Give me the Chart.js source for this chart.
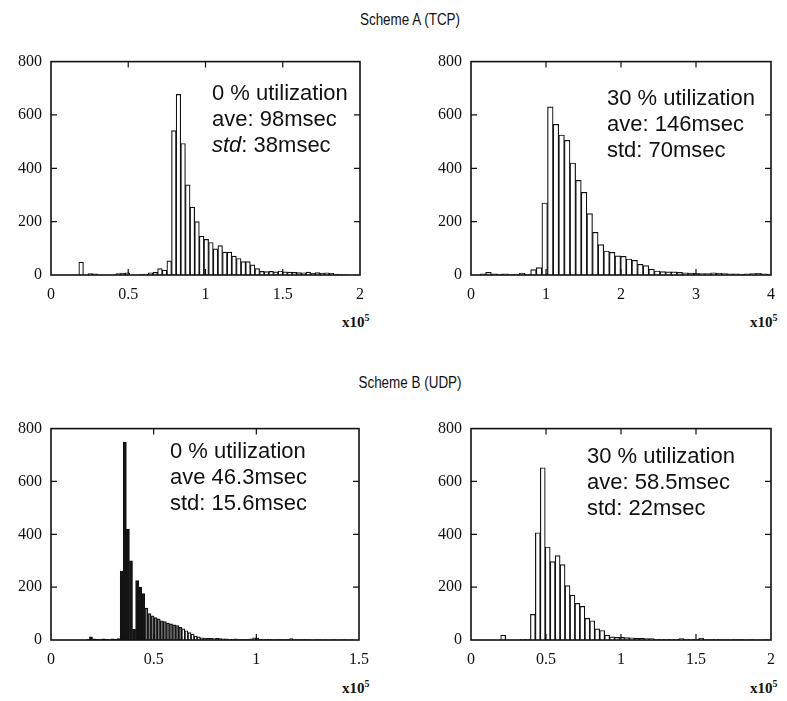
<!DOCTYPE html>
<html>
<head>
<meta charset="utf-8">
<script src="https://cdn.jsdelivr.net/npm/chart.js@4.4.1/dist/chart.umd.min.js"></script>
<style>
  html, body { margin: 0; padding: 0; background: #fff; }
  body { width: 787px; height: 701px; position: relative; overflow: hidden; }
  canvas { position: absolute; }
  .title { position: absolute; width: 200px; text-align: center; line-height: 18px;
           font-family: "Liberation Sans Narrow", "Arial Narrow", "Liberation Sans", sans-serif;
           font-size: 16px; color: #111; transform: scaleX(0.84); }
  .note { position: absolute; white-space: nowrap; font-family: "Liberation Sans", Arial, sans-serif;
          font-size: 22px; line-height: 26px; color: #111; }
  .exp { position: absolute; white-space: nowrap; font-family: "Liberation Serif", serif;
         font-size: 15px; line-height: 18px; color: #111; font-weight: bold; }
  .exp span { font-size: 10px; position: relative; top: -6px; }
</style>
</head>
<body>
<div class="title" style="left:310px; top:11px;">Scheme A (TCP)</div>
<div class="title" style="left:310px; top:374px;">Scheme B (UDP)</div>

<canvas id="a0" width="380" height="262" style="left:0; top:43px;"></canvas>
<canvas id="a30" width="387" height="262" style="left:400px; top:43px;"></canvas>
<canvas id="b0" width="380" height="260" style="left:0; top:410px;"></canvas>
<canvas id="b30" width="387" height="260" style="left:400px; top:410px;"></canvas>

<div class="note" style="left:212px; top:80px;">0 % utilization<br>ave: 98msec<br><i>std</i>: 38msec</div>
<div class="note" style="left:607px; top:85px;">30 % utilization<br>ave: 146msec<br>std: 70msec</div>
<div class="note" style="left:170px; top:438px;">0 % utilization<br>ave 46.3msec<br>std: 15.6msec</div>
<div class="note" style="left:587px; top:443px;">30 % utilization<br>ave: 58.5msec<br>std: 22msec</div>

<div class="exp" style="left:342px; top:313px;">x10<span>5</span></div>
<div class="exp" style="left:750px; top:313px;">x10<span>5</span></div>
<div class="exp" style="left:342px; top:679px;">x10<span>5</span></div>
<div class="exp" style="left:750px; top:679px;">x10<span>5</span></div>

<script>
// Eje y común a las cuatro gráficas (número de paquetes)
const yTicks = [0, 200, 400, 600, 800];

// Scheme A (TCP), 0 % utilization: bins de 0.03 (x10^5) desde 0
const binStartA0 = 0, binWidthA0 = 0.03;
const countsA0 = [0, 0, 0, 0, 0, 0, 48, 0, 5, 4,
                  0, 0, 0, 0, 5, 7, 8, 0, 0, 2,
                  3, 8, 10, 24, 18, 53, 541, 677, 493, 338,
                  254, 200, 146, 134, 122, 98, 110, 86, 86, 71,
                  62, 50, 50, 38, 24, 14, 13, 14, 12, 15,
                  12, 11, 10, 9, 8, 11, 7, 9, 7, 8,
                  6, 3, 2, 1, 0, 0, 0];
const xTicksA0 = [0, 0.5, 1, 1.5, 2];
const xLabelsA0 = ['0', '0.5', '1', '1.5', '2'];

// Scheme A (TCP), 30 % utilization
const binStartA30 = 0.045, binWidthA30 = 0.075;
const countsA30 = [0, 4, 10, 4, 3, 4, 2, 3, 7, 3,
                   20, 28, 270, 630, 565, 525, 505, 420, 355, 310,
                   230, 160, 114, 90, 85, 72, 70, 60, 55, 40,
                   35, 22, 15, 13, 12, 12, 10, 8, 7, 6,
                   5, 5, 8, 6, 5, 4, 4, 3, 4, 5,
                   6, 4, 3];
const xTicksA30 = [0, 1, 2, 3, 4];
const xLabelsA30 = ['0', '1', '2', '3', '4'];

// Scheme B (UDP), 0 % utilization
const binStartB0 = 0.007, binWidthB0 = 0.015;
const countsB0 = [0, 0, 0, 0, 0, 0, 0, 0, 0, 0,
                  0, 2, 12, 4, 3, 2, 4, 3, 2, 4,
                  3, 5, 260, 749, 420, 300, 40, 225, 200, 176,
                  121, 100, 91, 85, 80, 73, 70, 64, 61, 57,
                  55, 48, 42, 35, 28, 22, 15, 12, 8, 7,
                  6, 6, 5, 6, 5, 4, 4, 3, 3, 4,
                  3, 2, 3, 3, 4, 8, 6, 3, 2, 3,
                  3, 2, 2, 3, 2, 2, 3, 5, 2, 2,
                  2, 3, 2, 2, 1, 2, 2, 1, 2, 1,
                  1, 2, 1, 1, 2, 1, 1, 1, 0, 0];
const xTicksB0 = [0, 0.5, 1, 1.5];
const xLabelsB0 = ['0', '0.5', '1', '1.5'];

// Scheme B (UDP), 30 % utilization
const binStartB30 = 0, binWidthB30 = 0.033;
const countsB30 = [0, 0, 0, 0, 0, 0, 18, 0, 0, 0,
                   3, 3, 97, 406, 652, 352, 297, 319, 285, 206,
                   170, 139, 127, 82, 73, 42, 36, 18, 12, 10,
                   10, 9, 8, 6, 6, 5, 5, 3, 3, 2,
                   3, 3, 5, 3, 2, 3, 7, 2, 2, 3,
                   2, 2, 1, 2, 2, 1, 2, 1, 1, 2,
                   1];
const xTicksB30 = [0, 0.5, 1, 1.5, 2];
const xLabelsB30 = ['0', '0.5', '1', '1.5', '2'];

// Marco y marcas hacia dentro en los cuatro lados
const boxTicks = {
    id: 'boxTicks',
    afterDatasetsDraw(chart) {
        const { ctx, chartArea: a, scales: { x, y } } = chart;
        ctx.save();
        ctx.strokeStyle = '#111';
        ctx.lineWidth = 1.6;
        ctx.strokeRect(a.left, a.top, a.right - a.left, a.bottom - a.top);
        ctx.lineWidth = 1.2;
        ctx.beginPath();
        y.ticks.forEach(t => {
            if (t.value <= y.min || t.value >= y.max) return;
            const py = y.getPixelForValue(t.value);
            ctx.moveTo(a.left, py); ctx.lineTo(a.left + 6, py);
            ctx.moveTo(a.right, py); ctx.lineTo(a.right - 6, py);
        });
        x.ticks.forEach(t => {
            if (t.value <= x.min || t.value >= x.max) return;
            const px = x.getPixelForValue(t.value);
            ctx.moveTo(px, a.bottom); ctx.lineTo(px, a.bottom - 6);
            ctx.moveTo(px, a.top); ctx.lineTo(px, a.top + 6);
        });
        ctx.stroke();
        ctx.restore();
    }
};

const tickFont = { family: '"Liberation Serif", serif', size: 16 };

// En el escaneo la gráfica UDP 0 % sale casi negra en el pico
const fillB0 = c => {
    const v = c.raw ? c.raw.x : 1;
    if (v < 0.46) return '#161616';
    if (v < 0.63) return '#777';
    return '#fff';
};

function histogram(id, binStart, binWidth, counts, xTicks, xLabels, yAxisWidth, padRight, fill) {
    const points = counts.map((c, i) => ({ x: binStart + binWidth * (i + 0.5), y: c }));
    return new Chart(document.getElementById(id), {
        type: 'bar',
        data: {
            datasets: [{
                data: points,
                backgroundColor: fill || '#fff',
                borderColor: '#111',
                borderWidth: 1.2,
                barPercentage: 1,
                categoryPercentage: 1
            }]
        },
        options: {
            responsive: false,
            animation: false,
            layout: { padding: { top: 10, right: padRight, left: 0, bottom: 0 } },
            plugins: { legend: { display: false }, tooltip: { enabled: false } },
            scales: {
                x: {
                    type: 'linear',
                    offset: false,
                    min: xTicks[0],
                    max: xTicks[xTicks.length - 1],
                    grid: { display: false, drawTicks: false, offset: false },
                    border: { display: false },
                    afterBuildTicks: s => { s.ticks = xTicks.map(v => ({ value: v })); },
                    afterFit: s => { s.height = 30; },
                    ticks: {
                        padding: 10,
                        maxRotation: 0,
                        autoSkip: false,
                        color: '#111',
                        font: tickFont,
                        callback: (v, i) => xLabels[i]
                    }
                },
                y: {
                    min: 0,
                    max: 800,
                    grid: { display: false, drawTicks: false },
                    border: { display: false },
                    afterBuildTicks: s => { s.ticks = yTicks.map(v => ({ value: v })); },
                    afterFit: s => { s.width = yAxisWidth; },
                    ticks: { padding: 9, color: '#111', font: tickFont }
                }
            }
        },
        plugins: [boxTicks]
    });
}

histogram('a0', binStartA0, binWidthA0, countsA0, xTicksA0, xLabelsA0, 51, 20);
histogram('a30', binStartA30, binWidthA30, countsA30, xTicksA30, xLabelsA30, 71, 16);
histogram('b0', binStartB0, binWidthB0, countsB0, xTicksB0, xLabelsB0, 51, 21, fillB0);
histogram('b30', binStartB30, binWidthB30, countsB30, xTicksB30, xLabelsB30, 71, 16);
</script>
</body>
</html>
